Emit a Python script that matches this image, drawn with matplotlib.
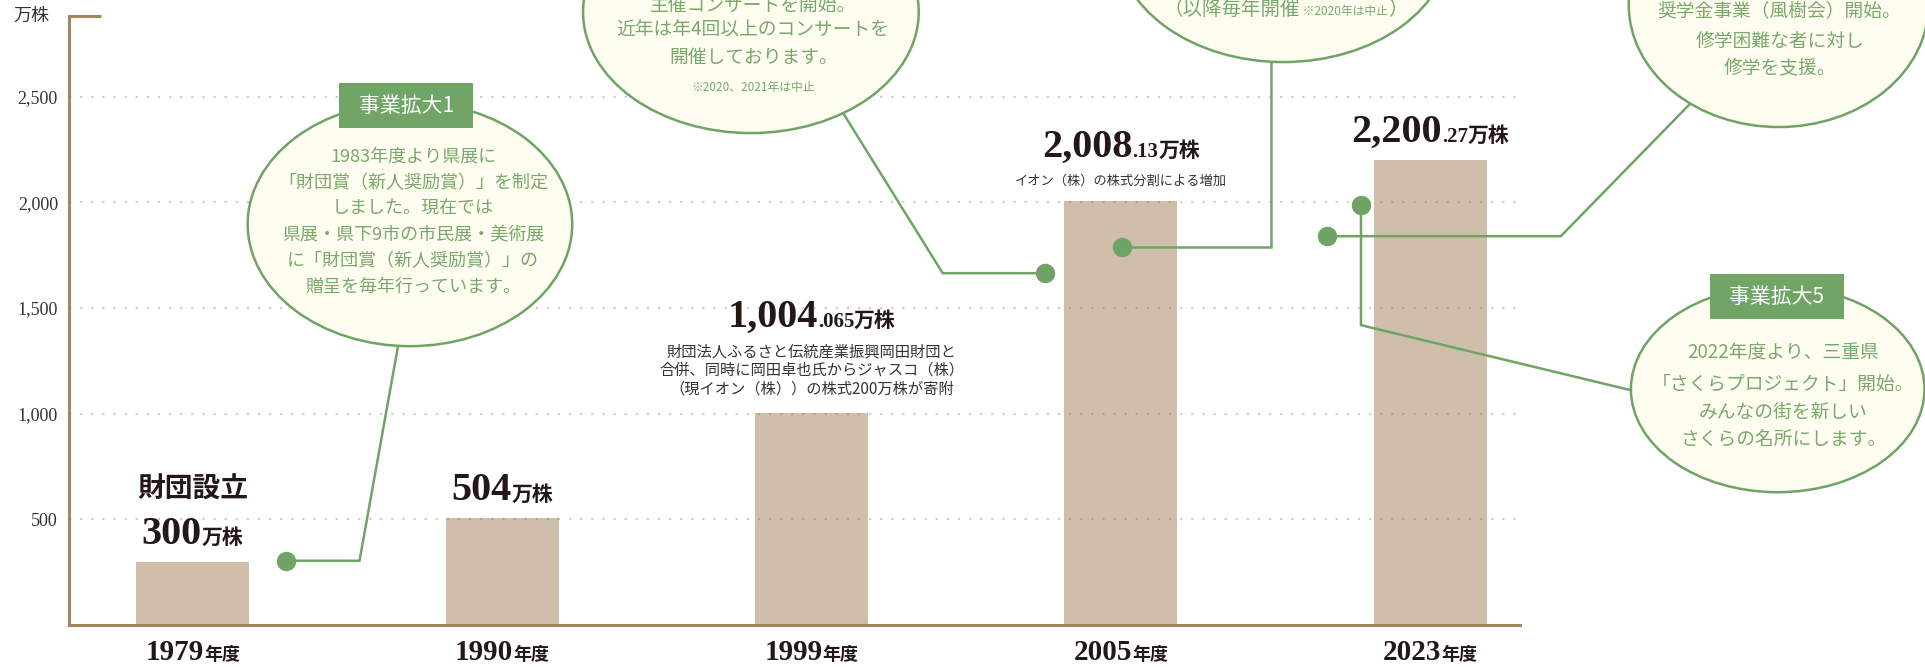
import matplotlib
matplotlib.use('Agg')
import matplotlib.pyplot as plt
from matplotlib.patches import Ellipse, Rectangle

# chart data
years = ['1979', '1990', '1999', '2005', '2023']
shares = [300, 504, 1004.065, 2008.13, 2200.27]
head_notes = ['財団設立', '', '', '', '']
sub_notes = [
    [],
    [],
    ['財団法人ふるさと伝統産業振興岡田財団と',
     '合併、同時に岡田卓也氏からジャスコ（株）',
     '（現イオン（株））の株式200万株が寄附'],
    ['イオン（株）の株式分割による増加'],
    [],
]
y_ticks = [500, 1000, 1500, 2000, 2500]
unit = '万株'
year_suffix = '年度'

# speech bubble texts
bubble1_title = '事業拡大1'
bubble1_lines = ['1983年度より県展に', '「財団賞（新人奨励賞）」を制定', 'しました。現在では',
                 '県展・県下9市の市民展・美術展', 'に「財団賞（新人奨励賞）」の', '贈呈を毎年行っています。']
bubble2_lines = ['主催コンサートを開始。', '近年は年4回以上のコンサートを', '開催しております。']
bubble2_note = '※2020、2021年は中止'
bubble3_parts = ['（以降毎年開催', ' ※2020年は中止', '）']
bubble4_lines = ['奨学金事業（風樹会）開始。', '修学困難な者に対し', '修学を支援。']
bubble5_title = '事業拡大5'
bubble5_lines = ['2022年度より、三重県', '「さくらプロジェクト」開始。', 'みんなの街を新しい', 'さくらの名所にします。']

INK = '#231815'
GREEN = '#6fa466'
GREEN_TEXT = '#78a96c'
CREAM = '#fefdf0'
BAR = '#cfbfaa'
AXIS = '#a4875f'
SERIF = ['Liberation Serif', 'Noto Sans CJK JP']
SANS = ['Noto Sans CJK JP', 'DejaVu Sans']

dpi = 100
PT = 72 / dpi  # points per pixel

fig = plt.figure(figsize=(19.25, 6.67), dpi=dpi)
ax = fig.add_axes([69 / 1925, 42 / 667, 1451 / 1925, 609 / 667])
renderer = fig.canvas.get_renderer()

x = list(range(len(years)))
ax.bar(x, shares, width=0.365, color=BAR, zorder=1)
ax.set_xlim(-0.40, 4.29)
ax.set_ylim(0, 2882)

for side in ['top', 'right']:
    ax.spines[side].set_visible(False)
for side in ['left', 'bottom']:
    ax.spines[side].set_color(AXIS)
    ax.spines[side].set_linewidth(2.2)
ax.plot([0, 0.022], [1, 1], transform=ax.transAxes, color=AXIS, lw=2.2,
        clip_on=False, solid_capstyle='butt')

ax.set_xticks([])
ax.set_yticks(y_ticks)
ax.set_yticklabels([f'{v:,}' for v in y_ticks], family=SERIF, fontsize=13, color='#333333')
ax.tick_params(axis='y', length=0, pad=8)
ax.set_axisbelow(False)
ax.yaxis.grid(True, color='#8a6d4a', alpha=0.35, lw=1.6, linestyle=(0, (1, 4)))
ax.text(-0.026, 1.0, unit, transform=ax.transAxes, ha='center', va='center',
        fontsize=13, family=SANS, color='#333333')


def place_parts(xv, yv, parts, dy_px, family=SERIF, color=INK, zorder=3):
    """parts - list of (text, size, weight); drawn side by side, centred on xv,
    baseline dy_px pixels above yv"""
    texts = []
    for s, size, weight in parts:
        t = ax.annotate(s, (xv, yv), xytext=(0, dy_px * PT), textcoords='offset points',
                        ha='left', va='baseline', fontsize=size, fontweight=weight,
                        family=family, color=color, annotation_clip=False, zorder=zorder)
        texts.append(t)
    widths = [t.get_window_extent(renderer).width for t in texts]
    left = -sum(widths) / 2
    for t, w in zip(texts, widths):
        t.xyann = (left * PT, dy_px * PT)
        left += w


# value labels above the bars
for i, v in enumerate(shares):
    num = f'{v:,}'
    main, _, dec = num.partition('.')
    parts = [(main, 29, 'bold')]
    if dec:
        parts.append(('.' + dec, 15, 'bold'))
    parts.append((unit, 15, 'bold'))
    notes = sub_notes[i]
    if notes:
        line_h = 18.5 if len(notes) > 1 else 0
        size = 11 if len(notes) > 1 else 9.5
        base = 24 if len(notes) > 1 else 19
        for k, line in enumerate(reversed(notes)):
            ax.annotate(line, (i, v), xytext=(0, (base + k * line_h) * PT),
                        textcoords='offset points', ha='center', va='center',
                        fontsize=size, family=SANS, color='#333333')
        num_base = base + (len(notes) - 1) * line_h + 25
    else:
        num_base = 18
    place_parts(i, v, parts, num_base)
    if head_notes[i]:
        ax.annotate(head_notes[i], (i, v), xytext=(0, (num_base + 54) * PT),
                    textcoords='offset points', ha='center', va='center',
                    fontsize=20, fontweight='bold', family=SANS, color=INK)

# year labels under the axis
for i, yr in enumerate(years):
    place_parts(i, 0, [(yr, 21, 'bold'), (year_suffix, 13, 'bold')], -35)


def connector(points):
    xs = [p[0] for p in points]
    ys = [p[1] for p in points]
    ax.plot(xs, ys, color=GREEN, lw=1.8, zorder=4, clip_on=False, solid_joinstyle='miter')
    ax.plot(xs[0], ys[0], 'o', color=GREEN, ms=14, mec='none', zorder=4.5, clip_on=False)


def bubble(center, w, h):
    ax.add_patch(Ellipse(center, w, h, facecolor=CREAM, edgecolor=GREEN, lw=1.8,
                         zorder=5, clip_on=False))


def title_box(center, title):
    ax.add_patch(Rectangle((center[0] - 0.2165, center[1] - 106.5), 0.433, 213,
                           facecolor='#70a566', edgecolor='none', zorder=6, clip_on=False))
    ax.text(center[0], center[1], title, ha='center', va='center', fontsize=15,
            family=SANS, color='white', zorder=7, clip_on=False)


def bubble_lines(xc, ys, lines, size=13):
    for yv, line in zip(ys, lines):
        ax.text(xc, yv, line, ha='center', va='center', fontsize=size, family=SANS,
                color=GREEN_TEXT, zorder=7, clip_on=False)


# bubble 1
connector([(0.300, 304), (0.539, 304), (0.664, 1324)])
bubble((0.702, 1897), 1.049, 1155)
title_box((0.690, 2458), bubble1_title)
bubble_lines(0.712, [2215 - 123 * k for k in range(len(bubble1_lines))], bubble1_lines)

# bubble 2
connector([(2.754, 1665), (2.424, 1665), (2.099, 2430)])
bubble((1.804, 2901), 1.085, 1146)
bubble_lines(1.812, [2929, 2816, 2688], bubble2_lines, size=13.5)
bubble_lines(1.812, [2546], [bubble2_note], size=8.5)

# bubble 3
connector([(3.002, 1788), (3.486, 1788), (3.486, 2664)])
bubble((3.525, 3237), 1.078, 1146)
place_parts(3.531, 2887, [(bubble3_parts[0], 14, 'normal'), (bubble3_parts[1], 8.5, 'normal'),
                          (bubble3_parts[2], 14, 'normal')], 0, family=SANS, color=GREEN_TEXT, zorder=7)

# bubble 4
connector([(3.667, 1840), (4.422, 1840), (4.836, 2461)])
bubble((5.126, 2934), 0.969, 1155)
bubble_lines(5.129, [2901, 2763, 2636], bubble4_lines, size=13.5)

# bubble 5
connector([(3.776, 1987), (3.776, 1419), (4.649, 1111)])
bubble((5.123, 1116), 0.949, 975)
title_box((5.120, 1554), bubble5_title)
bubble_lines(5.14, [1287, 1140, 1007, 874], bubble5_lines, size=13.5)

fig.savefig('out.png', dpi=dpi)
